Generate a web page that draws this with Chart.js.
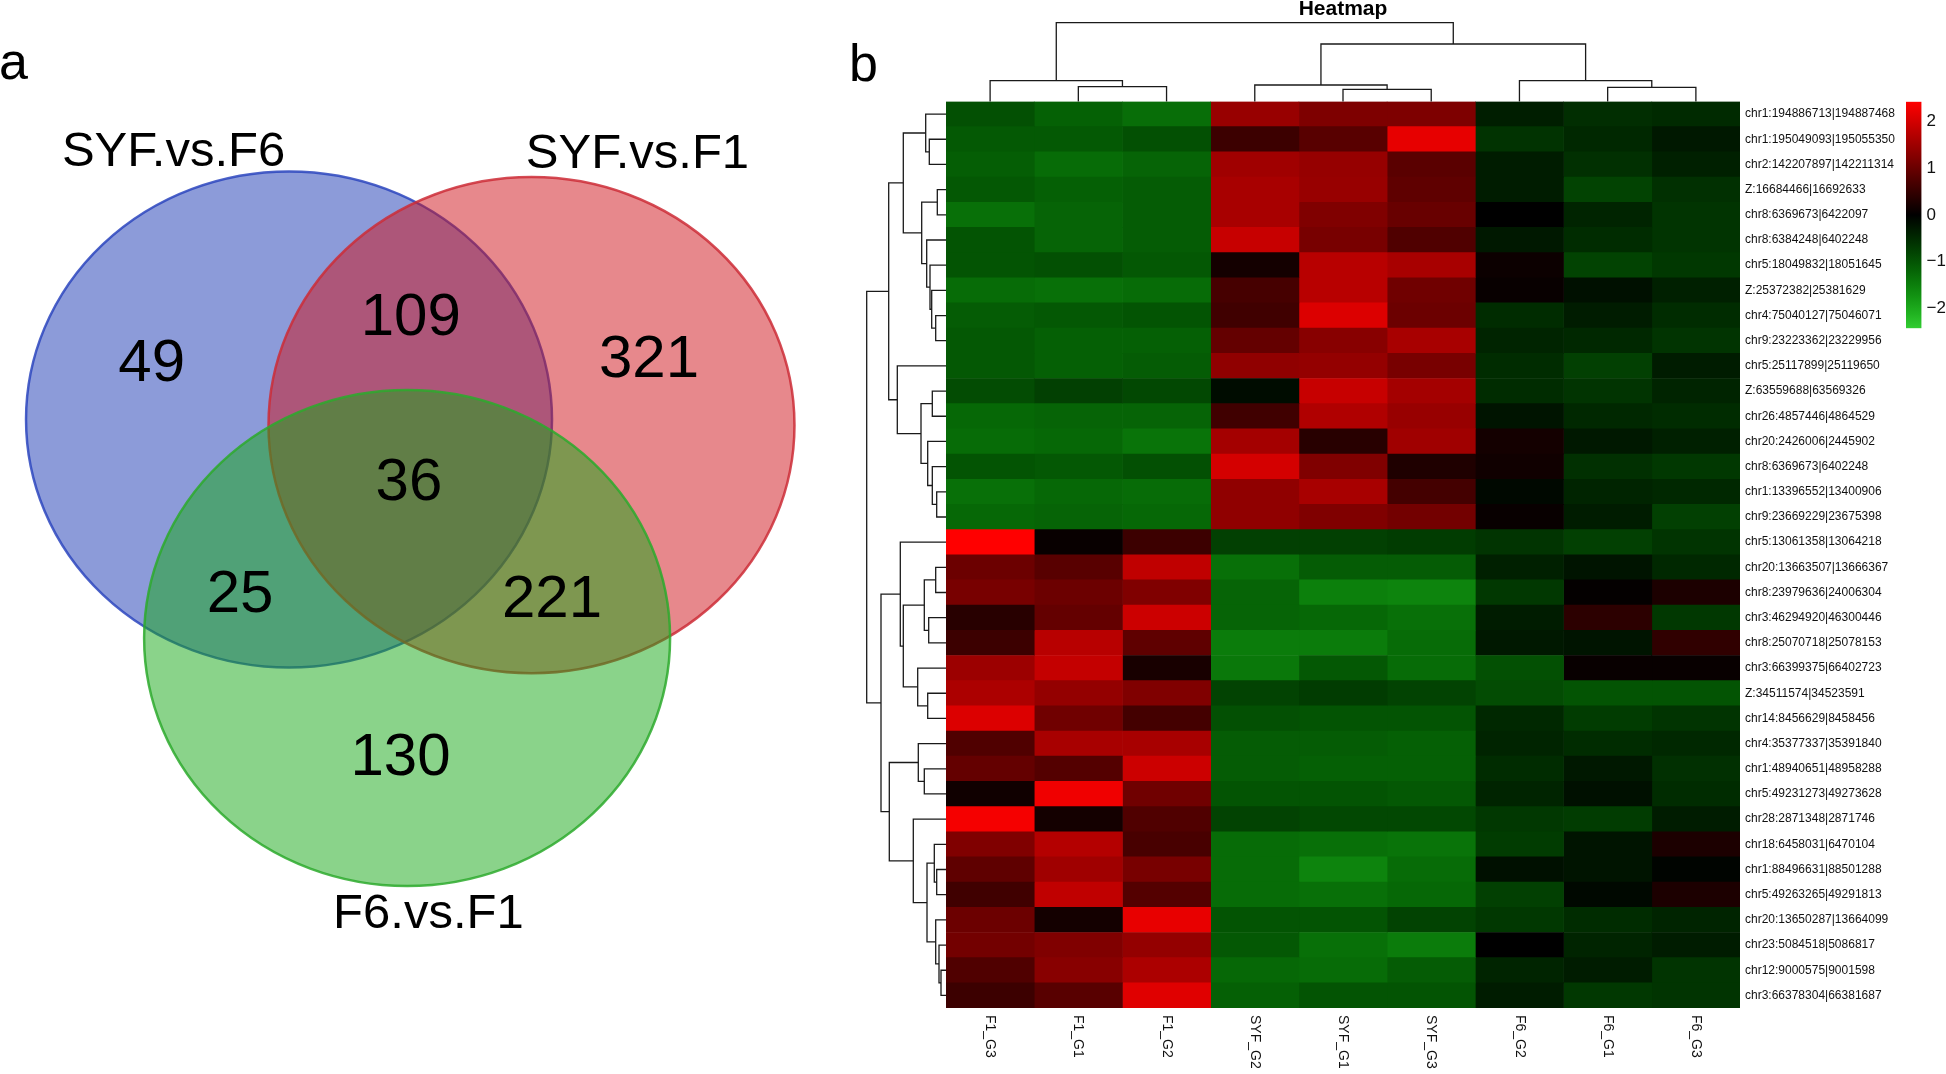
<!DOCTYPE html>
<html>
<head>
<meta charset="utf-8">
<script src="https://cdn.jsdelivr.net/npm/chart.js@4.4.0/dist/chart.umd.min.js"></script>
<style>
html,body{margin:0;padding:0;background:#ffffff;}
#wrap{position:relative;width:1946px;height:1074px;overflow:hidden;background:#ffffff;}
#wrap canvas{position:absolute;left:0;top:0;}
</style>
</head>
<body>
<div id="wrap">
<canvas id="venn" width="1946" height="1074"></canvas>
<canvas id="heat" width="1946" height="1074"></canvas>
<canvas id="dendTop" width="1946" height="1074"></canvas>
<canvas id="dendLeft" width="1946" height="1074"></canvas>
<canvas id="cbar" width="1946" height="1074"></canvas>
</div>
<script>
// ---------------- DATA ----------------
// Venn (panel a)
const vennSets = ['SYF.vs.F6', 'SYF.vs.F1', 'F6.vs.F1'];
const vennRegions = ['SYF.vs.F6 only', 'SYF.vs.F1 only', 'F6.vs.F1 only',
  'SYF.vs.F6 & SYF.vs.F1', 'SYF.vs.F6 & F6.vs.F1', 'SYF.vs.F1 & F6.vs.F1', 'all three'];
const vennCounts = [49, 321, 130, 109, 25, 221, 36];

// Heatmap (panel b)
const columnLabels = ['F1_G3', 'F1_G1', 'F1_G2', 'SYF_G2', 'SYF_G1', 'SYF_G3', 'F6_G2', 'F6_G1', 'F6_G3'];
const rowLabels = [
  'chr1:194886713|194887468', 'chr1:195049093|195055350', 'chr2:142207897|142211314', 'Z:16684466|16692633',
  'chr8:6369673|6422097', 'chr8:6384248|6402248', 'chr5:18049832|18051645', 'Z:25372382|25381629',
  'chr4:75040127|75046071', 'chr9:23223362|23229956', 'chr5:25117899|25119650', 'Z:63559688|63569326',
  'chr26:4857446|4864529', 'chr20:2426006|2445902', 'chr8:6369673|6402248', 'chr1:13396552|13400906',
  'chr9:23669229|23675398', 'chr5:13061358|13064218', 'chr20:13663507|13666367', 'chr8:23979636|24006304',
  'chr3:46294920|46300446', 'chr8:25070718|25078153', 'chr3:66399375|66402723', 'Z:34511574|34523591',
  'chr14:8456629|8458456', 'chr4:35377337|35391840', 'chr1:48940651|48958288', 'chr5:49231273|49273628',
  'chr28:2871348|2871746', 'chr18:6458031|6470104', 'chr1:88496631|88501288', 'chr5:49263265|49291813',
  'chr20:13650287|13664099', 'chr23:5084518|5086817', 'chr12:9000575|9001598', 'chr3:66378304|66381687'
];
const valuesF1_G3 = [-0.95,-1.05,-1.12,-1.04,-1.33,-1.0,-1.0,-1.28,-1.09,-1.04,-1.04,-0.9,-1.23,-1.28,-1.0,-1.33,-1.23,
  2.43,1.03,1.14,0.38,0.57,1.49,1.64,2.1,0.76,0.95,0.15,2.33,1.22,0.91,0.61,1.03,1.1,0.76,0.57];
const valuesF1_G1 = [-1.15,-1.05,-1.28,-1.14,-1.19,-1.19,-0.95,-1.33,-1.04,-1.14,-1.14,-0.76,-1.19,-1.23,-1.04,-1.23,-1.19,
  0.08,0.84,1.03,0.95,1.75,1.87,1.41,1.07,1.6,0.8,2.29,0.19,1.72,1.52,1.83,0.19,1.22,1.3,0.84];
const valuesF1_G2 = [-1.3,-0.95,-1.19,-1.09,-1.09,-1.09,-1.04,-1.28,-1.0,-1.14,-1.09,-0.85,-1.19,-1.38,-0.95,-1.28,-1.23,
  0.57,1.83,1.22,1.94,0.91,0.23,1.22,0.65,1.6,1.94,1.07,0.76,0.69,1.14,0.8,2.21,1.41,1.64,2.13];
const valuesSYF_G2 = [1.45,0.57,1.52,1.6,1.6,1.9,0.19,0.67,0.61,0.95,1.37,-0.14,0.61,1.56,2.02,1.37,1.37,
  -0.76,-1.33,-1.19,-1.19,-1.47,-1.42,-0.8,-0.95,-1.09,-1.09,-1.0,-0.8,-1.28,-1.28,-1.28,-1.0,-1.04,-1.23,-1.14];
const valuesSYF_G1 = [1.2,0.84,1.43,1.45,1.22,1.14,1.75,1.75,2.1,1.3,1.41,1.9,1.68,0.38,1.22,1.6,1.22,
  -0.76,-1.09,-1.52,-1.23,-1.47,-1.04,-0.71,-1.0,-1.09,-1.14,-1.0,-0.85,-1.33,-1.56,-1.33,-1.0,-1.33,-1.28,-1.0];
const valuesSYF_G3 = [1.2,2.2,0.86,0.91,0.99,0.76,1.6,1.07,1.03,1.6,1.14,1.56,1.45,1.52,0.3,0.65,1.1,
  -0.71,-1.09,-1.56,-1.33,-1.28,-1.28,-0.8,-1.0,-1.14,-1.14,-1.04,-0.85,-1.38,-1.28,-1.23,-0.8,-1.47,-1.09,-1.0];
const valuesF6_G2 = [-0.35,-0.6,-0.33,-0.33,0,-0.28,0.11,0.08,-0.52,-0.43,-0.52,-0.52,-0.24,0.19,0.15,-0.09,0.08,
  -0.62,-0.38,-0.66,-0.33,-0.28,-0.95,-0.9,-0.47,-0.43,-0.52,-0.43,-0.66,-0.71,-0.19,-0.76,-0.66,0,-0.43,-0.33];
const valuesF6_G1 = [-0.55,-0.47,-0.57,-0.8,-0.43,-0.52,-0.8,-0.19,-0.33,-0.47,-0.76,-0.62,-0.47,-0.28,-0.57,-0.43,-0.33,
  -0.76,-0.24,0.04,0.42,-0.24,0.08,-1.0,-0.71,-0.52,-0.28,-0.19,-0.71,-0.24,-0.24,-0.09,-0.52,-0.43,-0.33,-0.66];
const valuesF6_G3 = [-0.5,-0.28,-0.38,-0.57,-0.62,-0.62,-0.66,-0.38,-0.52,-0.62,-0.33,-0.43,-0.52,-0.38,-0.66,-0.47,-0.76,
  -0.62,-0.47,0.27,-0.66,0.46,0.08,-1.0,-0.62,-0.47,-0.57,-0.52,-0.33,0.27,-0.05,0.27,-0.43,-0.33,-0.62,-0.62];

// colour key
const colorMin = -2.43;
const colorMax = 2.43;
const colorbarTicks = [-2, -1, 0, 1, 2];

// column dendrogram (leaves 0..8, merge k creates node 9+k)
const colMergeA = [1, 0, 4, 3, 7, 6, 12, 10];
const colMergeB = [2, 9, 5, 11, 8, 13, 14, 15];
const colMergeHeight = [1.48, 2.08, 1.22, 1.65, 1.42, 2.08, 5.75, 7.88];

// row dendrogram (leaves 0..35, merge k creates node 36+k)
const rowMergeA = [1, 0, 3, 8, 7, 6, 5, 38, 37, 15, 14, 13, 11, 48, 10, 44,
  18, 20, 52, 23, 22, 54, 17, 26, 25, 30, 29, 34, 33, 32, 62, 28, 60, 58, 51];
const rowMergeB = [2, 36, 4, 9, 39, 40, 41, 42, 43, 16, 45, 46, 12, 47, 49, 50,
  19, 21, 53, 24, 55, 56, 57, 27, 59, 31, 61, 35, 63, 64, 65, 66, 67, 68, 69];
const rowMergeHeight = [16.7, 20.3, 8.7, 10.3, 14.3, 16, 19.3, 24.3, 42.7, 9.3, 13.7, 18.3, 13.7, 25, 48.7, 57.3,
  10.3, 17.3, 21.7, 18.3, 28.3, 42.7, 45.7, 21.7, 27.7, 9.3, 11.7, 5, 7, 10.3, 19, 32.7, 56.7, 65, 79.3];

// ---------------- LAYOUT / STYLE ----------------
const FONT = "'Liberation Sans', Arial, Helvetica, sans-serif";
Chart.defaults.font.family = FONT;
Chart.defaults.color = '#111';

const columnValues = [valuesF1_G3, valuesF1_G1, valuesF1_G2, valuesSYF_G2, valuesSYF_G1, valuesSYF_G3, valuesF6_G2, valuesF6_G1, valuesF6_G3];

// Venn geometry in circle-radius units (x unit and y unit differ slightly: figure is stretched)
const vennLayout = {
  xMin: -1.556, xMax: 1.486, yMin: -1.992, yMax: 2.338, radius: 1,
  centers: [[-0.457, -0.301], [0.465, -0.278], [-0.008, 0.580]],
  countPos: [[-0.979, -0.522], [0.912, -0.537], [-0.033, 1.064], [0.006, -0.710], [-0.643, 0.407], [0.543, 0.427], [-0.001, -0.043]],
  setLabelPos: [[-0.896, -1.377], [0.868, -1.371], [0.073, 1.693]]
};
const vennFill = ['rgba(25,55,180,0.5)', 'rgba(207,17,25,0.5)', 'rgba(22,168,22,0.5)'];
const vennStroke = ['rgba(45,70,190,0.85)', 'rgba(205,45,55,0.85)', 'rgba(45,170,45,0.85)'];

function heatColor(v) {
  const t = Math.max(-1, Math.min(1, v / colorMax));
  if (t >= 0) return 'rgb(' + Math.round(255 * t) + ',0,0)';
  const a = -t;
  const rb = Math.round(50 * a * a * a);
  return 'rgb(' + rb + ',' + Math.round(205 * a) + ',' + rb + ')';
}

// ---------------- VENN ----------------
const vennPlugin = {
  id: 'vennDraw',
  afterDatasetsDraw(chart) {
    const ctx = chart.ctx, xs = chart.scales.x, ys = chart.scales.y;
    ctx.save();
    chart.data.datasets.forEach((ds, i) => {
      const p = chart.getDatasetMeta(i).data[0];
      const c = ds.data[0];
      const rx = Math.abs(xs.getPixelForValue(c.x + vennLayout.radius) - p.x);
      const ry = Math.abs(ys.getPixelForValue(c.y + vennLayout.radius) - p.y);
      ctx.beginPath();
      ctx.ellipse(p.x, p.y, rx, ry, 0, 0, Math.PI * 2);
      ctx.fillStyle = vennFill[i];
      ctx.fill();
      ctx.lineWidth = 2.5;
      ctx.strokeStyle = vennStroke[i];
      ctx.stroke();
    });
    ctx.fillStyle = '#000';
    ctx.textAlign = 'center';
    ctx.textBaseline = 'middle';
    ctx.font = '60px ' + FONT;
    vennCounts.forEach((n, k) => {
      const [ux, uy] = vennLayout.countPos[k];
      ctx.fillText(String(n), xs.getPixelForValue(ux), ys.getPixelForValue(uy));
    });
    ctx.font = '49px ' + FONT;
    vennSets.forEach((name, k) => {
      const [ux, uy] = vennLayout.setLabelPos[k];
      ctx.fillText(name, xs.getPixelForValue(ux), ys.getPixelForValue(uy));
    });
    // panel letters
    ctx.textAlign = 'left';
    ctx.textBaseline = 'alphabetic';
    ctx.font = '52px ' + FONT;
    ctx.fillText('a', -1, 79);
    ctx.fillText('b', 849, 81);
    ctx.restore();
  }
};

new Chart(document.getElementById('venn'), {
  type: 'scatter',
  data: {
    datasets: vennSets.map((name, i) => ({
      label: name,
      data: [{ x: vennLayout.centers[i][0], y: vennLayout.centers[i][1] }],
      pointRadius: 0
    }))
  },
  options: {
    responsive: false, animation: false,
    layout: { padding: { left: 0, top: 0, right: 1146, bottom: 0 } },
    plugins: { legend: { display: false }, tooltip: { enabled: false } },
    scales: {
      x: { type: 'linear', display: false, min: vennLayout.xMin, max: vennLayout.xMax },
      y: { type: 'linear', display: false, min: vennLayout.yMin, max: vennLayout.yMax, reverse: true }
    }
  },
  plugins: [vennPlugin]
});

// ---------------- HEATMAP ----------------
const colLabelPlugin = {
  id: 'colLabels',
  afterDraw(chart) {
    const ctx = chart.ctx, xs = chart.scales.x, bottom = chart.chartArea.bottom;
    ctx.save();
    ctx.font = '14px ' + FONT;
    ctx.fillStyle = '#111';
    ctx.textAlign = 'left';
    ctx.textBaseline = 'middle';
    columnLabels.forEach((lab, j) => {
      ctx.save();
      ctx.translate(xs.getPixelForValue(j + 0.5), bottom + 7);
      ctx.rotate(Math.PI / 2);
      ctx.fillText(lab, 0, 0);
      ctx.restore();
    });
    ctx.restore();
  }
};

new Chart(document.getElementById('heat'), {
  type: 'bar',
  data: {
    labels: rowLabels,
    datasets: columnLabels.map((col, j) => ({
      label: col,
      data: rowLabels.map(() => [j, j + 1]),
      backgroundColor: columnValues[j].map(heatColor),
      borderWidth: 0,
      borderSkipped: false,
      grouped: false,
      barPercentage: 1,
      categoryPercentage: 1
    }))
  },
  options: {
    indexAxis: 'y',
    responsive: false, animation: false,
    layout: { padding: { left: 946, top: 101.5, right: 46, bottom: 66 } },
    plugins: { legend: { display: false }, tooltip: { enabled: false } },
    scales: {
      x: { type: 'linear', min: 0, max: 9, display: false },
      y: {
        type: 'category', position: 'right',
        grid: { display: false, drawTicks: false },
        border: { display: false },
        ticks: { font: { size: 12, family: FONT }, color: '#111', padding: 5, autoSkip: false },
        afterFit(scale) { scale.width = 160; }
      }
    }
  },
  plugins: [colLabelPlugin]
});

// ---------------- DENDROGRAMS ----------------
function buildDendro(nLeaves, mA, mB, mH) {
  const pos = [], hgt = [], segs = [];
  for (let i = 0; i < nLeaves; i++) { pos[i] = i + 0.5; hgt[i] = 0; }
  for (let k = 0; k < mA.length; k++) {
    const a = mA[k], b = mB[k], h = mH[k];
    segs.push([[pos[a], hgt[a]], [pos[a], h], [pos[b], h], [pos[b], hgt[b]]]);
    pos[nLeaves + k] = (pos[a] + pos[b]) / 2;
    hgt[nLeaves + k] = h;
  }
  return segs;
}
const lineStyle = { showLine: true, pointRadius: 0, borderColor: '#1a1a1a', borderWidth: 1.3, clip: false, tension: 0 };

const colSegs = buildDendro(columnLabels.length, colMergeA, colMergeB, colMergeHeight);
new Chart(document.getElementById('dendTop'), {
  type: 'scatter',
  data: { datasets: colSegs.map(s => Object.assign({ data: s.map(p => ({ x: p[0], y: p[1] })) }, lineStyle)) },
  options: {
    responsive: false, animation: false,
    layout: { padding: { left: 946, top: 0, right: 206, bottom: 972.5 } },
    plugins: {
      legend: { display: false }, tooltip: { enabled: false },
      title: { display: true, text: 'Heatmap', color: '#000', font: { size: 21, weight: 'bold', family: FONT, lineHeight: 0.8 }, padding: { top: 1, bottom: 4.9 } }
    },
    scales: {
      x: { type: 'linear', min: 0, max: columnLabels.length, display: false },
      y: { type: 'linear', min: 0, max: Math.max(...colMergeHeight), display: false }
    }
  }
});

const rowSegs = buildDendro(rowLabels.length, rowMergeA, rowMergeB, rowMergeHeight);
new Chart(document.getElementById('dendLeft'), {
  type: 'scatter',
  data: { datasets: rowSegs.map(s => Object.assign({ data: s.map(p => ({ x: p[1], y: p[0] })) }, lineStyle)) },
  options: {
    responsive: false, animation: false,
    layout: { padding: { left: 866.7, top: 101.5, right: 1000, bottom: 66 } },
    plugins: { legend: { display: false }, tooltip: { enabled: false } },
    scales: {
      x: { type: 'linear', min: 0, max: Math.max(...rowMergeHeight), reverse: true, display: false },
      y: { type: 'linear', min: 0, max: rowLabels.length, reverse: true, display: false }
    }
  }
});

// ---------------- COLOUR KEY ----------------
function keyGradient(context) {
  const chart = context.chart;
  if (!chart.chartArea) return 'black';
  const ys = chart.scales.y;
  const y0 = ys.getPixelForValue(colorMax), y1 = ys.getPixelForValue(colorMin);
  const g = chart.ctx.createLinearGradient(0, y0, 0, y1);
  const steps = 48;
  for (let s = 0; s <= steps; s++) {
    const v = colorMax - (colorMax - colorMin) * s / steps;
    g.addColorStop(s / steps, heatColor(v));
  }
  return g;
}
new Chart(document.getElementById('cbar'), {
  type: 'bar',
  data: { labels: ['key'], datasets: [{ data: [[colorMin, colorMax]], backgroundColor: keyGradient, borderWidth: 0, barPercentage: 1, categoryPercentage: 1 }] },
  options: {
    responsive: false, animation: false,
    layout: { padding: { left: 1906, top: 101.7, right: 0.5, bottom: 745.7 } },
    plugins: { legend: { display: false }, tooltip: { enabled: false } },
    scales: {
      x: { type: 'category', display: false },
      y: {
        type: 'linear', position: 'right', min: colorMin, max: colorMax,
        grid: { display: false, drawTicks: false }, border: { display: false },
        afterBuildTicks(scale) { scale.ticks = colorbarTicks.map(v => ({ value: v })); },
        ticks: { font: { size: 17, family: FONT }, color: '#111', padding: 5,
          callback: v => (v < 0 ? '\u2212' + Math.abs(v) : String(v)) },
        afterFit(scale) { scale.width = 24; }
      }
    }
  }
});
</script>
</body>
</html>
